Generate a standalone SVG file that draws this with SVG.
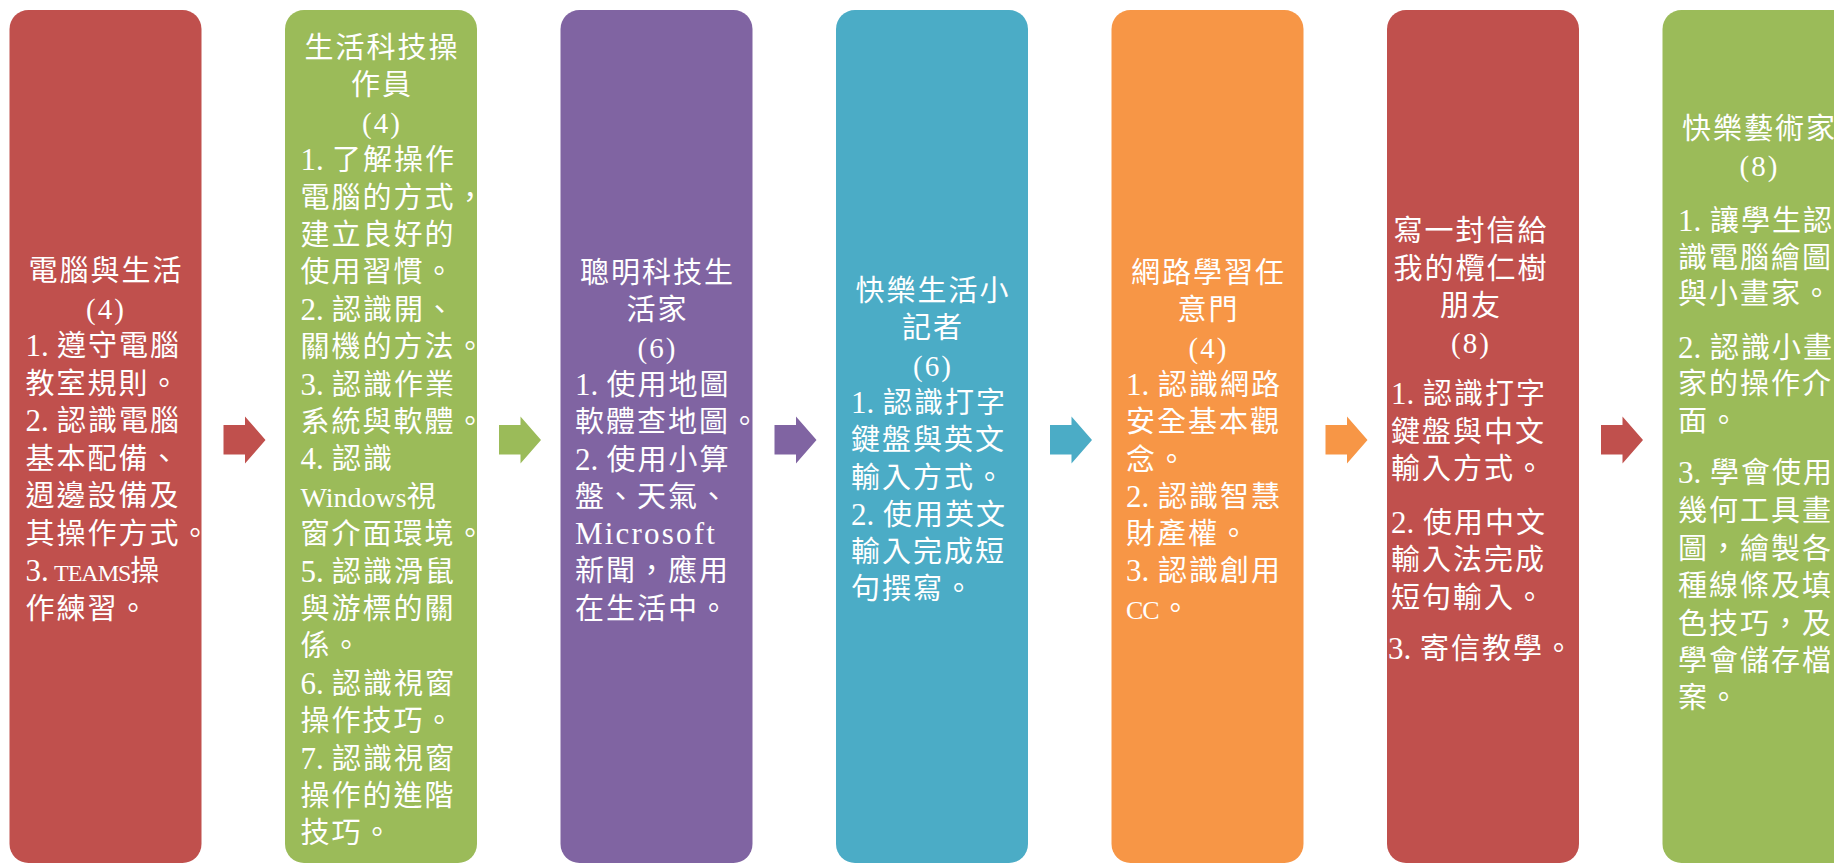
<svg xmlns="http://www.w3.org/2000/svg" xmlns:xlink="http://www.w3.org/1999/xlink" width="1834" height="865" viewBox="0 0 1834 865">
<style>
.t{font-family:"Liberation Serif","Noto Sans CJK TC",serif;font-size:29px;fill:#fff;letter-spacing:2px}
.c{text-anchor:middle}
.l{font-size:31px;letter-spacing:0}
.red{fill:#C0504D}.grn{fill:#9BBB59}.pur{fill:#8064A2}.blu{fill:#4BACC6}.org{fill:#F79646}
</style>
<defs>
<path id="arrow" d="M0,425 H21.5 V416.5 L42,440 L21.5,463.5 V454.5 H0 Z"/>
</defs>
<rect width="1834" height="865" fill="#fff"/>
<g id="connectors">
<use xlink:href="#arrow" x="223.5" class="red"/>
<use xlink:href="#arrow" x="499" class="grn"/>
<use xlink:href="#arrow" x="774.5" class="pur"/>
<use xlink:href="#arrow" x="1050" class="blu"/>
<use xlink:href="#arrow" x="1325.5" class="org"/>
<use xlink:href="#arrow" x="1601" class="red"/>
</g>
<g id="node1">
<rect x="9.5" y="10" width="192" height="853" rx="19" class="red"/>
<text class="t c" x="106" y="281">電腦與生活</text>
<text class="t c" x="106" y="318.5">(4)</text>
<text class="t" x="25.5" y="356"><tspan class="l">1.</tspan><tspan x="57">遵守電腦</tspan></text>
<text class="t" x="25.5" y="393.5">教室規則。</text>
<text class="t" x="25.5" y="431"><tspan class="l">2.</tspan><tspan x="57">認識電腦</tspan></text>
<text class="t" x="25.5" y="468.5">基本配備、</text>
<text class="t" x="25.5" y="506">週邊設備及</text>
<text class="t" x="25.5" y="543.5">其操作方式。</text>
<text class="t" x="25.5" y="581"><tspan class="l">3.</tspan><tspan x="54" style="font-size:24px;letter-spacing:-1px">TEAMS</tspan>操</text>
<text class="t" x="25.5" y="618.5">作練習。</text>
</g>
<g id="node2">
<rect x="285" y="10" width="192" height="853" rx="19" class="grn"/>
<text class="t c" x="382" y="58">生活科技操</text>
<text class="t c" x="382" y="95.4">作員</text>
<text class="t c" x="382" y="132.8">(4)</text>
<text class="t" x="300.5" y="170.2"><tspan class="l">1.</tspan><tspan x="332">了解操作</tspan></text>
<text class="t" x="300.5" y="207.6">電腦的方式，</text>
<text class="t" x="300.5" y="245">建立良好的</text>
<text class="t" x="300.5" y="282.4">使用習慣。</text>
<text class="t" x="300.5" y="319.8"><tspan class="l">2.</tspan><tspan x="332">認識開、</tspan></text>
<text class="t" x="300.5" y="357.2">關機的方法。</text>
<text class="t" x="300.5" y="394.6"><tspan class="l">3.</tspan><tspan x="332">認識作業</tspan></text>
<text class="t" x="300.5" y="432">系統與軟體。</text>
<text class="t" x="300.5" y="469.4"><tspan class="l">4.</tspan><tspan x="332">認識</tspan></text>
<text class="t" x="300.5" y="506.8"><tspan style="font-size:28px;letter-spacing:0">Windows</tspan>視</text>
<text class="t" x="300.5" y="544.2">窗介面環境。</text>
<text class="t" x="300.5" y="581.6"><tspan class="l">5.</tspan><tspan x="332">認識滑鼠</tspan></text>
<text class="t" x="300.5" y="619">與游標的關</text>
<text class="t" x="300.5" y="656.4">係。</text>
<text class="t" x="300.5" y="693.8"><tspan class="l">6.</tspan><tspan x="332">認識視窗</tspan></text>
<text class="t" x="300.5" y="731.2">操作技巧。</text>
<text class="t" x="300.5" y="768.6"><tspan class="l">7.</tspan><tspan x="332">認識視窗</tspan></text>
<text class="t" x="300.5" y="806">操作的進階</text>
<text class="t" x="300.5" y="843.4">技巧。</text>
</g>
<g id="node3">
<rect x="560.5" y="10" width="192" height="853" rx="19" class="pur"/>
<text class="t c" x="657.5" y="283">聰明科技生</text>
<text class="t c" x="657.5" y="320.3">活家</text>
<text class="t c" x="657.5" y="357.6">(6)</text>
<text class="t" x="575" y="394.9"><tspan class="l">1.</tspan><tspan x="606.5">使用地圖</tspan></text>
<text class="t" x="575" y="432.2">軟體查地圖。</text>
<text class="t" x="575" y="469.5"><tspan class="l">2.</tspan><tspan x="606.5">使用小算</tspan></text>
<text class="t" x="575" y="506.8">盤、天氣、</text>
<text class="t" x="575" y="544.1" style="font-size:31px;letter-spacing:2.2px">Microsoft</text>
<text class="t" x="575" y="581.4">新聞，應用</text>
<text class="t" x="575" y="618.7">在生活中。</text>
</g>
<g id="node4">
<rect x="836" y="10" width="192" height="853" rx="19" class="blu"/>
<text class="t c" x="933" y="301">快樂生活小</text>
<text class="t c" x="933" y="338.3">記者</text>
<text class="t c" x="933" y="375.6">(6)</text>
<text class="t" x="851" y="412.9"><tspan class="l">1.</tspan><tspan x="883">認識打字</tspan></text>
<text class="t" x="851" y="450.2">鍵盤與英文</text>
<text class="t" x="851" y="487.5">輸入方式。</text>
<text class="t" x="851" y="524.8"><tspan class="l">2.</tspan><tspan x="883">使用英文</tspan></text>
<text class="t" x="851" y="562.1">輸入完成短</text>
<text class="t" x="851" y="599.4">句撰寫。</text>
</g>
<g id="node5">
<rect x="1111.5" y="10" width="192" height="853" rx="19" class="org"/>
<text class="t c" x="1208.5" y="283">網路學習任</text>
<text class="t c" x="1208.5" y="320.3">意門</text>
<text class="t c" x="1208.5" y="357.6">(4)</text>
<text class="t" x="1126" y="394.9"><tspan class="l">1.</tspan><tspan x="1158">認識網路</tspan></text>
<text class="t" x="1126" y="432.2">安全基本觀</text>
<text class="t" x="1126" y="469.5">念。</text>
<text class="t" x="1126" y="506.8"><tspan class="l">2.</tspan><tspan x="1158">認識智慧</tspan></text>
<text class="t" x="1126" y="544.1">財產權。</text>
<text class="t" x="1126" y="581.4"><tspan class="l">3.</tspan><tspan x="1158">認識創用</tspan></text>
<text class="t" x="1126" y="618.7"><tspan style="font-size:26px;letter-spacing:-1px">CC</tspan><tspan dx="2">。</tspan></text>
</g>
<g id="node6">
<rect x="1387" y="10" width="192" height="853" rx="19" class="red"/>
<text class="t c" x="1471" y="241">寫一封信給</text>
<text class="t c" x="1471" y="278.5">我的欖仁樹</text>
<text class="t c" x="1471" y="316">朋友</text>
<text class="t c" x="1471" y="353">(8)</text>
<text class="t" x="1391" y="404"><tspan class="l">1.</tspan><tspan x="1423">認識打字</tspan></text>
<text class="t" x="1391" y="442">鍵盤與中文</text>
<text class="t" x="1391" y="479">輸入方式。</text>
<text class="t" x="1391" y="533"><tspan class="l">2.</tspan><tspan x="1423">使用中文</tspan></text>
<text class="t" x="1391" y="570">輸入法完成</text>
<text class="t" x="1391" y="608">短句輸入。</text>
<text class="t" x="1388" y="659"><tspan class="l">3.</tspan><tspan x="1420">寄信教學。</tspan></text>
</g>
<g id="node7">
<rect x="1662.5" y="10" width="192" height="853" rx="19" class="grn"/>
<text class="t c" x="1759.5" y="139">快樂藝術家</text>
<text class="t c" x="1759.5" y="176">(8)</text>
<text class="t" x="1678" y="231"><tspan class="l">1.</tspan><tspan x="1710">讓學生認</tspan></text>
<text class="t" x="1678" y="268">識電腦繪圖</text>
<text class="t" x="1678" y="304">與小畫家。</text>
<text class="t" x="1678" y="358"><tspan class="l">2.</tspan><tspan x="1710">認識小畫</tspan></text>
<text class="t" x="1678" y="394">家的操作介</text>
<text class="t" x="1678" y="431">面。</text>
<text class="t" x="1678" y="483"><tspan class="l">3.</tspan><tspan x="1710">學會使用</tspan></text>
<text class="t" x="1678" y="521">幾何工具畫</text>
<text class="t" x="1678" y="559">圖，繪製各</text>
<text class="t" x="1678" y="596">種線條及填</text>
<text class="t" x="1678" y="634">色技巧，及</text>
<text class="t" x="1678" y="671">學會儲存檔</text>
<text class="t" x="1678" y="708">案。</text>
</g>
</svg>
